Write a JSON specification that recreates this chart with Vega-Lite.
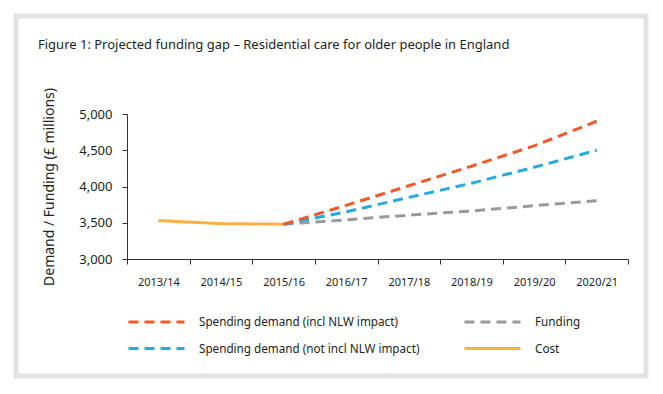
{
  "$schema": "https://vega.github.io/schema/vega-lite/v6.json",
  "autosize": {"type": "none"},
  "width": 630,
  "height": 360,
  "padding": {"left": 16, "top": 16, "right": 17, "bottom": 18},
  "background": "white",
  "title": {
    "text": "Figure 1: Projected funding gap – Residential care for older people in England",
    "anchor": "start",
    "frame": "group",
    "orient": "top",
    "offset": -36,
    "dx": 22,
    "font": "Noto Sans",
    "fontSize": 13,
    "fontWeight": "normal",
    "color": "#231f20"
  },
  "config": {
    "view": {"stroke": "#e3e3e3", "strokeWidth": 5, "fill": "white"},
    "font": "Noto Sans"
  },
  "data": {
    "values": [
      {"year": "2013/14", "series": "Cost", "value": 3530},
      {"year": "2014/15", "series": "Cost", "value": 3488},
      {"year": "2015/16", "series": "Cost", "value": 3480},
      {"year": "2015/16", "series": "Funding", "value": 3480},
      {"year": "2016/17", "series": "Funding", "value": 3540},
      {"year": "2017/18", "series": "Funding", "value": 3605},
      {"year": "2018/19", "series": "Funding", "value": 3662},
      {"year": "2019/20", "series": "Funding", "value": 3735},
      {"year": "2020/21", "series": "Funding", "value": 3805},
      {"year": "2015/16", "series": "Spending demand (not incl NLW impact)", "value": 3480},
      {"year": "2016/17", "series": "Spending demand (not incl NLW impact)", "value": 3650},
      {"year": "2017/18", "series": "Spending demand (not incl NLW impact)", "value": 3850},
      {"year": "2018/19", "series": "Spending demand (not incl NLW impact)", "value": 4045},
      {"year": "2019/20", "series": "Spending demand (not incl NLW impact)", "value": 4265},
      {"year": "2020/21", "series": "Spending demand (not incl NLW impact)", "value": 4500},
      {"year": "2015/16", "series": "Spending demand (incl NLW impact)", "value": 3480},
      {"year": "2016/17", "series": "Spending demand (incl NLW impact)", "value": 3740},
      {"year": "2017/18", "series": "Spending demand (incl NLW impact)", "value": 4010},
      {"year": "2018/19", "series": "Spending demand (incl NLW impact)", "value": 4280},
      {"year": "2019/20", "series": "Spending demand (incl NLW impact)", "value": 4560},
      {"year": "2020/21", "series": "Spending demand (incl NLW impact)", "value": 4900}
    ]
  },
  "mark": {"type": "line", "strokeWidth": 3},
  "encoding": {
    "x": {
      "field": "year",
      "type": "ordinal",
      "bandPosition": 0.5,
      "scale": {
        "type": "band",
        "domain": ["2013/14", "2014/15", "2015/16", "2016/17", "2017/18", "2018/19", "2019/20", "2020/21"],
        "range": [111, 612],
        "paddingInner": 0,
        "paddingOuter": 0
      },
      "axis": {
        "title": null,
        "offset": -117,
        "labelAngle": 0,
        "tickBand": "extent",
        "tickSize": 5,
        "tickColor": "#333333",
        "domainColor": "#333333",
        "labelPadding": 12,
        "labelFont": "Noto Sans",
        "labelFontSize": 11,
        "labelColor": "#231f20"
      }
    },
    "y": {
      "field": "value",
      "type": "quantitative",
      "scale": {"domain": [3000, 5000], "range": [243, 98], "nice": false, "zero": false},
      "axis": {
        "title": "Demand / Funding (£ millions)",
        "offset": -111,
        "values": [3000, 3500, 4000, 4500, 5000],
        "format": ",.0f",
        "grid": false,
        "tickSize": 5,
        "tickColor": "#333333",
        "domainColor": "#333333",
        "labelPadding": 10,
        "labelFont": "Noto Sans",
        "labelFontSize": 13,
        "labelColor": "#231f20",
        "titleFont": "Noto Sans",
        "titleFontSize": 14,
        "titleFontWeight": "normal",
        "titleColor": "#231f20",
        "titlePadding": 22
      }
    },
    "color": {
      "field": "series",
      "type": "nominal",
      "scale": {
        "domain": ["Spending demand (incl NLW impact)", "Spending demand (not incl NLW impact)", "Funding", "Cost"],
        "range": ["#f15a2b", "#27aae1", "#999a9e", "#fbb040"]
      },
      "legend": {
        "title": null,
        "orient": "none",
        "legendX": 132,
        "legendY": 297,
        "columns": 2,
        "columnPadding": 38,
        "rowPadding": 11,
        "symbolType": "M-4,0H4",
        "symbolSize": 196,
        "symbolStrokeWidth": 3,
        "labelOffset": 34,
        "labelFont": "Noto Sans",
        "labelFontSize": 11.7,
        "labelColor": "#231f20",
        "labelLimit": 400
      }
    },
    "strokeDash": {
      "field": "series",
      "type": "nominal",
      "scale": {
        "domain": ["Spending demand (incl NLW impact)", "Spending demand (not incl NLW impact)", "Funding", "Cost"],
        "range": [[10, 6], [10, 6], [10, 6], [1, 0]]
      },
      "legend": null
    }
  }
}
